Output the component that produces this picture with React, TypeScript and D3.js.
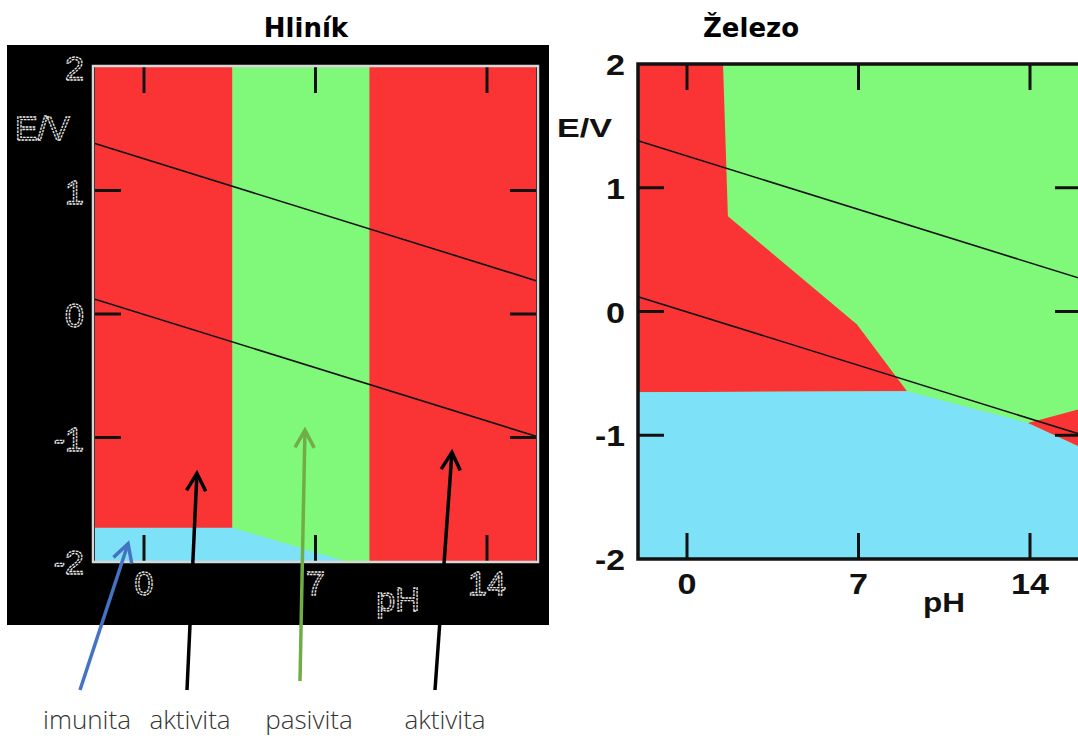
import React from "react";
import * as d3 from "d3";

// ---------- data ----------
const pHTicks = [0, 7, 14];
const eLabelTicks = [2, 1, 0, -1, -2];
const eInnerTicks = [1, 0, -1];
const pHDomain = [-2, 16];
const eDomain = [-2, 2];

// water stability lines (pH, E)
const waterUpper: [number, number][] = [[-2, 1.38], [16, 0.27]];
const waterLower: [number, number][] = [[-2, 0.12], [16, -0.99]];

// Hliník regions
const alCorrosion: [number, number][] = [[-2, 2], [16, 2], [16, -2], [-2, -2]];
const alPassivity: [number, number][] = [[3.6, 2], [9.2, 2], [9.2, -2], [3.6, -2]];
const alImmunity: [number, number][] = [[-2, -1.73], [3.6, -1.73], [8.2, -2], [-2, -2]];

// Železo regions
const fePassivity: [number, number][] = [[-2, 2], [16, 2], [16, -2], [-2, -2]];
const feCorrosion: [number, number][] = [[-2, 2], [1.47, 2], [1.67, 0.77], [6.94, -0.105], [8.98, -0.645], [-2, -0.653]];
const feImmunity: [number, number][] = [[-2, -0.653], [8.98, -0.645], [13.92, -0.9], [16, -1.09], [16, -2], [-2, -2]];
const feCorrosion2: [number, number][] = [[13.92, -0.9], [16, -0.79], [16, -1.09]];

// annotations (tip in Hliník data coords, tail in page pixels)
const annotLabels = ["imunita", "aktivita", "pasivita", "aktivita"];
const annotColors = ["#4472c4", "#000000", "#70ad47", "#000000"];
const annotTips: [number, number][] = [[-0.65, -1.86], [2.16, -1.29], [6.57, -0.94], [12.57, -1.12]];
const annotTails: [number, number][] = [[80, 690], [187, 690], [300, 681], [435, 690]];
const annotLabelX = [87, 190, 309, 445];

const RED = "#fa3434";
const GREEN = "#80f87a";
const BLUE = "#7de2f8";

export default function App() {
  const xL = d3.scaleLinear().domain(pHDomain).range([95, 536]);
  const yL = d3.scaleLinear().domain(eDomain).range([561, 67]);
  const xR = d3.scaleLinear().domain(pHDomain).range([638, 1079]);
  const yR = d3.scaleLinear().domain(eDomain).range([559, 64]);

  const lineL = d3.line<[number, number]>().x((d) => xL(d[0])).y((d) => yL(d[1]));
  const lineR = d3.line<[number, number]>().x((d) => xR(d[0])).y((d) => yR(d[1]));
  const polyL = (p: [number, number][]) => lineL(p) + "Z";
  const polyR = (p: [number, number][]) => lineR(p) + "Z";

  const leftTextStyle = {
    fontFamily: "'Liberation Sans', Arial, sans-serif",
    fontSize: 34,
    fill: "#000",
    stroke: "#e6e6e6",
    strokeWidth: 1.3,
    strokeDasharray: "2.5,1",
  } as any;

  const rightTextStyle = {
    fontFamily: "'Liberation Sans', Arial, sans-serif",
    fontSize: 29,
    fontWeight: 700,
    fill: "#111",
  } as any;

  const arrowHead = (tail: [number, number], tip: [number, number]) => {
    const ang = Math.atan2(tail[1] - tip[1], tail[0] - tip[0]);
    const len = 20;
    const spread = 0.5;
    const a1 = [tip[0] + len * Math.cos(ang + spread), tip[1] + len * Math.sin(ang + spread)];
    const a2 = [tip[0] + len * Math.cos(ang - spread), tip[1] + len * Math.sin(ang - spread)];
    return `M${a1[0]},${a1[1]}L${tip[0]},${tip[1]}L${a2[0]},${a2[1]}`;
  };

  return (
    <svg
      width={1078}
      height={738}
      style={{ position: "absolute", left: 0, top: 0, background: "#fff" }}
    >
      {/* titles */}
      <text x={306} y={37} textAnchor="middle" fontFamily="'DejaVu Sans', sans-serif" fontWeight={700} fontSize={26} fill="#000">Hliník</text>
      <text x={751} y={37} textAnchor="middle" fontFamily="'DejaVu Sans', sans-serif" fontWeight={700} fontSize={26} fill="#000">Železo</text>

      {/* ---------- Left panel (Hliník) ---------- */}
      <rect x={7} y={45} width={542} height={580} fill="#000" />
      <path d={polyL(alCorrosion)} fill={RED} />
      <path d={polyL(alPassivity)} fill={GREEN} />
      <path d={polyL(alImmunity)} fill={BLUE} />
      <path d={lineL(waterUpper) || ""} stroke="#111" strokeWidth={1.6} fill="none" />
      <path d={lineL(waterLower) || ""} stroke="#111" strokeWidth={1.6} fill="none" />
      {/* ticks */}
      {pHTicks.map((t) => (
        <g key={"lt" + t}>
          <line x1={xL(t)} x2={xL(t)} y1={yL(2)} y2={yL(2) + 26} stroke="#111" strokeWidth={3} />
          <line x1={xL(t)} x2={xL(t)} y1={yL(-2)} y2={yL(-2) - 26} stroke="#111" strokeWidth={3} />
        </g>
      ))}
      {eInnerTicks.map((t) => (
        <g key={"le" + t}>
          <line x1={xL(-2)} x2={xL(-2) + 26} y1={yL(t)} y2={yL(t)} stroke="#111" strokeWidth={3} />
          <line x1={xL(16)} x2={xL(16) - 26} y1={yL(t)} y2={yL(t)} stroke="#111" strokeWidth={3} />
        </g>
      ))}
      <rect x={xL(-2) - 2} y={yL(2) - 1} width={xL(16) - xL(-2) + 4} height={yL(-2) - yL(2) + 2} fill="none" stroke="#d8d8d8" strokeWidth={2.5} />
      {/* labels */}
      {eLabelTicks.map((t) => (
        <text key={"lel" + t} x={84} y={yL(t) + 13} textAnchor="end" style={leftTextStyle}>{t < 0 ? "-" + Math.abs(t) : t}</text>
      ))}
      <text x={15} y={140} style={leftTextStyle}>E/V</text>
      {pHTicks.map((t) => (
        <text key={"lpl" + t} x={xL(t)} y={595} textAnchor="middle" style={leftTextStyle}>{t}</text>
      ))}
      <text x={398} y={611} textAnchor="middle" style={leftTextStyle}>pH</text>

      {/* ---------- Right panel (Železo) ---------- */}
      <path d={polyR(fePassivity)} fill={GREEN} />
      <path d={polyR(feCorrosion)} fill={RED} />
      <path d={polyR(feImmunity)} fill={BLUE} />
      <path d={polyR(feCorrosion2)} fill={RED} />
      <path d={lineR(waterUpper) || ""} stroke="#111" strokeWidth={1.6} fill="none" />
      <path d={lineR(waterLower) || ""} stroke="#111" strokeWidth={1.6} fill="none" />
      {pHTicks.map((t) => (
        <g key={"rt" + t}>
          <line x1={xR(t)} x2={xR(t)} y1={yR(2)} y2={yR(2) + 26} stroke="#111" strokeWidth={3} />
          <line x1={xR(t)} x2={xR(t)} y1={yR(-2)} y2={yR(-2) - 26} stroke="#111" strokeWidth={3} />
        </g>
      ))}
      {eInnerTicks.map((t) => (
        <g key={"re" + t}>
          <line x1={xR(-2)} x2={xR(-2) + 26} y1={yR(t)} y2={yR(t)} stroke="#111" strokeWidth={3} />
          <line x1={xR(16)} x2={xR(16) - 24} y1={yR(t)} y2={yR(t)} stroke="#111" strokeWidth={3} />
        </g>
      ))}
      <path
        d={`M${xR(16) + 10},${yR(2)}L${xR(-2)},${yR(2)}L${xR(-2)},${yR(-2)}L${xR(16) + 10},${yR(-2)}`}
        fill="none"
        stroke="#111"
        strokeWidth={3.5}
      />
      {eLabelTicks.map((t) => (
        <text key={"rel" + t} x={625} y={yR(t) + 11} textAnchor="end" style={rightTextStyle}
          textLength={t < 0 ? 30 : 19} lengthAdjust="spacingAndGlyphs">{t < 0 ? "-" + Math.abs(t) : t}</text>
      ))}
      <text x={557} y={137} style={{ ...rightTextStyle, fontSize: 26 }} textLength={55} lengthAdjust="spacingAndGlyphs">E/V</text>
      {pHTicks.map((t) => (
        <text key={"rpl" + t} x={xR(t)} y={594} textAnchor="middle" style={rightTextStyle}
          textLength={t >= 10 ? 38 : 19} lengthAdjust="spacingAndGlyphs">{t}</text>
      ))}
      <text x={944} y={612} textAnchor="middle" style={{ ...rightTextStyle, fontSize: 28 }} textLength={42} lengthAdjust="spacingAndGlyphs">pH</text>

      {/* ---------- annotations ---------- */}
      {annotTips.map((tp, i) => {
        const tip: [number, number] = [xL(tp[0]), yL(tp[1])];
        const tail = annotTails[i];
        return (
          <g key={"an" + i} stroke={annotColors[i]} strokeWidth={3.5} fill="none" strokeLinecap="butt">
            <line x1={tail[0]} y1={tail[1]} x2={tip[0]} y2={tip[1]} />
            <path d={arrowHead(tail, tip)} />
          </g>
        );
      })}
      {annotLabels.map((l, i) => (
        <text key={"al" + i} x={annotLabelX[i]} y={729} textAnchor="middle"
          fontFamily="'Open Sans', sans-serif" fontWeight={300} fontSize={26} fill="#333">{l}</text>
      ))}
    </svg>
  );
}
